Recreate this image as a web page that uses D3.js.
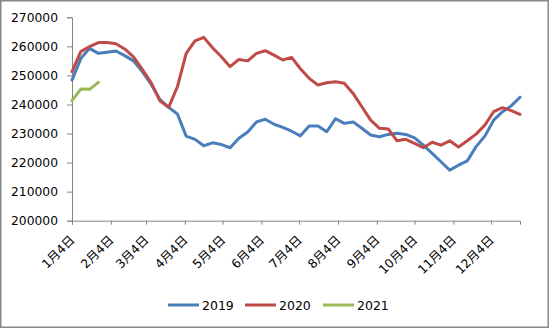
<!DOCTYPE html>
<html>
<head>
<meta charset="utf-8">
<script src="https://cdn.jsdelivr.net/npm/d3@7"></script>
<style>
  html, body { margin: 0; padding: 0; background: #fff; }
  svg { display: block; }
  text { font-family: "DejaVu Sans", "Noto Sans CJK SC", sans-serif; fill: #000; }
</style>
</head>
<body>
<svg id="chart" width="550" height="329"></svg>
<script>
// Weekly dates (month-day) on the 2019 calendar
const weeks = ["01-04","01-11","01-18","01-25","02-01","02-08","02-15","02-22","03-01","03-08","03-15","03-22","03-29",
  "04-05","04-12","04-19","04-26","05-03","05-10","05-17","05-24","05-31","06-07","06-14","06-21","06-28",
  "07-05","07-12","07-19","07-26","08-02","08-09","08-16","08-23","08-30","09-06","09-13","09-20","09-27",
  "10-04","10-11","10-18","10-25","11-01","11-08","11-15","11-22","11-29","12-06","12-13","12-20","12-27"];

const series2019 = [248400,255800,259300,257600,258000,258400,256800,255000,251300,247000,241800,239000,236700,
  229100,228000,225800,226800,226200,225100,228400,230500,234000,234900,233200,232100,230800,
  229200,232600,232600,230600,235100,233500,234000,231800,229500,228900,229700,230100,229700,
  228500,226000,223200,220300,217400,219100,220600,225500,229100,234600,237500,239500,242500];

const series2020 = [251300,258200,259900,261300,261300,260900,259100,256400,252100,247500,241300,239000,246100,
  257600,261900,263100,259500,256400,253000,255500,255000,257600,258500,257000,255300,256200,
  252300,249000,246700,247500,247800,247300,243800,239200,234600,231800,231600,227500,228000,
  226600,225100,227000,226000,227500,225400,227500,229800,232900,237500,238900,237900,236600];

const series2021 = [241300,245300,245200,247600];

const seriesNames = ["2019","2020","2021"];
const seriesColors = ["#4A7EBB","#BE4B48","#98B954"];

const tickLabels = ["1月4日","2月4日","3月4日","4月4日","5月4日","6月4日","7月4日","8月4日","9月4日","10月4日","11月4日","12月4日"];
const yTicks = [200000,210000,220000,230000,240000,250000,260000,270000];

const parse = s => { const [m, d] = s.split("-").map(Number); return new Date(2019, m - 1, d); };
const dates = weeks.map(parse);

const svg = d3.select("#chart");

// outer border
svg.append("rect").attr("x", 0.75).attr("y", 0.75).attr("width", 547.5).attr("height", 326.5)
  .attr("fill", "#fff").attr("stroke", "#888").attr("stroke-width", 1.5);

const x = d3.scaleTime().domain([dates[0], dates[dates.length - 1]]).range([72, 520]);
const y = d3.scaleLinear().domain([200000, 270000]).range([220.7, 17.3]);

const axisColor = "#868686";

// Y axis
const yAxis = d3.axisLeft(y).tickValues(yTicks).tickSize(5).tickPadding(9).tickFormat(d3.format("d"));
const gy = svg.append("g").attr("transform", "translate(72,0)").call(yAxis);
gy.select(".domain").attr("stroke", axisColor).attr("stroke-width", 1);
gy.selectAll(".tick line").attr("stroke", axisColor);
gy.selectAll(".tick text").attr("font-size", "12.3px").attr("font-family", "DejaVu Sans").attr("fill", "#000");

// X axis
const tickDates = tickLabels.map((t, i) => new Date(2019, i, 4));
const xAxis = d3.axisBottom(x).tickValues(tickDates).tickSize(4).tickFormat((d, i) => tickLabels[i]);
const gx = svg.append("g").attr("transform", "translate(0,220.7)").call(xAxis);
gx.select(".domain").attr("stroke", axisColor).attr("stroke-width", 1);
gx.selectAll(".tick line").attr("stroke", axisColor);
gx.selectAll(".tick text")
  .attr("font-size", "12.3px")
  .attr("text-anchor", "end")
  .attr("dy", 0)
  .attr("y", 0)
  .attr("transform", "translate(3,20) rotate(-45)");

// Lines
const line = d3.line().x((d, i) => x(dates[i])).y(d => y(d));
const allSeries = [series2019, series2020, series2021];
allSeries.forEach((s, k) => {
  svg.append("path").datum(s).attr("d", line)
    .attr("fill", "none").attr("stroke", seriesColors[k]).attr("stroke-width", 3)
    .attr("stroke-linejoin", "round").attr("stroke-linecap", "round");
});

// Legend
const legendX = [168, 245, 323];
const lg = svg.append("g");
seriesNames.forEach((n, k) => {
  lg.append("line").attr("x1", legendX[k]).attr("x2", legendX[k] + 31).attr("y1", 305).attr("y2", 305)
    .attr("stroke", seriesColors[k]).attr("stroke-width", 3);
  lg.append("text").attr("x", legendX[k] + 34).attr("y", 305).attr("dy", "0.36em")
    .attr("font-size", "12.5px").text(n);
});
</script>
</body>
</html>
